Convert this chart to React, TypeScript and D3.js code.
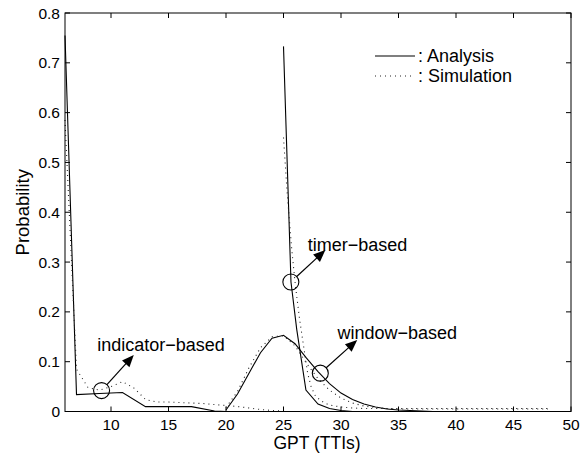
import React from "react";
import * as d3 from "d3";

// ---------- data ----------
const xTicks = [10, 15, 20, 25, 30, 35, 40, 45, 50];
const yTicks = [0, 0.1, 0.2, 0.3, 0.4, 0.5, 0.6, 0.7, 0.8];
const yTickLabels = ["0", "0.1", "0.2", "0.3", "0.4", "0.5", "0.6", "0.7", "0.8"];

// indicator-based
const indicatorAnalysisX = [6, 7, 9, 11, 13, 17, 19, 20, 48];
const indicatorAnalysisY = [0.755, 0.034, 0.036, 0.038, 0.0097, 0.0097, 0.001, 0, 0];
const indicatorSimX = [6, 7, 8, 9, 10, 11, 12, 13, 14, 15, 16, 17, 18, 19, 20, 21, 22, 23, 24, 25];
const indicatorSimY = [0.585, 0.085, 0.048, 0.043, 0.05, 0.06, 0.047, 0.024, 0.019, 0.019, 0.018, 0.017, 0.016, 0.014, 0.012, 0.01, 0.007, 0.004, 0.002, 0.001];

// timer-based
const timerAnalysisX = [25, 25.65, 26.15, 26.95, 28, 29, 30, 31, 48];
const timerAnalysisY = [0.733, 0.26, 0.165, 0.043, 0.015, 0.006, 0.002, 0, 0];
const timerSimX = [25, 25.3, 25.7, 26, 26.4, 26.8, 27.1, 27.4, 27.8, 28.5, 29, 30, 31, 32, 48];
const timerSimY = [0.55, 0.445, 0.33, 0.26, 0.185, 0.123, 0.077, 0.05, 0.03, 0.018, 0.013, 0.009, 0.007, 0.006, 0.006];

// window-based
const windowAnalysisX = [20, 21, 22, 23, 24, 25, 26, 27, 28, 29, 30, 31, 32, 33, 34, 35, 36, 37, 38, 48];
const windowAnalysisY = [0.003, 0.035, 0.077, 0.118, 0.147, 0.153, 0.136, 0.107, 0.08, 0.056, 0.037, 0.024, 0.015, 0.009, 0.005, 0.003, 0.002, 0.001, 0, 0];
const windowSimX = [20, 21, 22, 23, 24, 25, 26, 27, 28, 29, 30, 31, 32, 33, 34, 35, 48];
const windowSimY = [0.008, 0.04, 0.088, 0.128, 0.15, 0.152, 0.132, 0.097, 0.066, 0.043, 0.027, 0.017, 0.011, 0.008, 0.006, 0.005, 0.005];

// annotations: label, circle centre, arrow tip, text anchor (data coordinates)
const annLabels = ["indicator\u2212based", "timer\u2212based", "window\u2212based"];
const annCircleX = [9.18, 25.64, 28.2];
const annCircleY = [0.042, 0.26, 0.077];
const annTipX = [11.98, 28.64, 31.41];
const annTipY = [0.1135, 0.324, 0.1436];
const annTextX = [8.8, 27.1, 29.7];
const annTextY = [0.1215, 0.322, 0.1456];

const legendLabels = [": Analysis", ": Simulation"];

// ---------- layout ----------
const W = 580;
const H = 453;
const left = 65;
const right = 571;
const top = 13;
const bottom = 411.5;
const FONT = "'Liberation Sans', Arial, Helvetica, sans-serif";

const x = d3.scaleLinear().domain([6, 50]).range([left, right]);
const y = d3.scaleLinear().domain([0, 0.8]).range([bottom, top]);

const zip = (xs: number[], ys: number[]) => xs.map((v, i) => [v, ys[i]] as [number, number]);
const line = d3
  .line<[number, number]>()
  .x((d) => x(d[0]))
  .y((d) => y(d[1]));

const solidSeries = [
  zip(indicatorAnalysisX, indicatorAnalysisY),
  zip(timerAnalysisX, timerAnalysisY),
  zip(windowAnalysisX, windowAnalysisY),
];
const dottedSeries = [
  zip(indicatorSimX, indicatorSimY),
  zip(timerSimX, timerSimY),
  zip(windowSimX, windowSimY),
];

function Arrow({ cx, cy, tx, ty, r }: { cx: number; cy: number; tx: number; ty: number; r: number }) {
  const dx = tx - cx;
  const dy = ty - cy;
  const len = Math.hypot(dx, dy);
  const ux = dx / len;
  const uy = dy / len;
  const sx = cx + ux * r;
  const sy = cy + uy * r;
  const hl = 12;
  const hw = 5;
  const bx = tx - ux * hl;
  const by = ty - uy * hl;
  const p1 = [bx - uy * hw, by + ux * hw];
  const p2 = [bx + uy * hw, by - ux * hw];
  return (
    <g>
      <line x1={sx} y1={sy} x2={bx + ux * 2} y2={by + uy * 2} stroke="#000" strokeWidth={1.2} />
      <polygon points={`${tx},${ty} ${p1[0]},${p1[1]} ${p2[0]},${p2[1]}`} fill="#000" />
    </g>
  );
}

export default function App() {
  const tickLen = 5;
  return (
    <svg
      width={W}
      height={H}
      style={{ position: "absolute", left: 0, top: 0, background: "#fff" }}
      fontFamily={FONT}
    >
      <rect x={0} y={0} width={W} height={H} fill="#fff" />
      {/* curves */}
      {solidSeries.map((s, i) => (
        <path key={"s" + i} d={line(s) || ""} fill="none" stroke="#000" strokeWidth={1.1} />
      ))}
      {dottedSeries.map((s, i) => (
        <path
          key={"d" + i}
          d={line(s) || ""}
          fill="none"
          stroke="#222"
          strokeWidth={1.1}
          strokeDasharray="1 4"
        />
      ))}

      {/* axes box */}
      <rect x={left} y={top} width={right - left} height={bottom - top} fill="none" stroke="#000" strokeWidth={1} />
      {xTicks.map((t) => (
        <g key={"xt" + t}>
          <line x1={x(t)} x2={x(t)} y1={bottom} y2={bottom - tickLen} stroke="#000" />
          <line x1={x(t)} x2={x(t)} y1={top} y2={top + tickLen} stroke="#000" />
          <text x={x(t)} y={430} textAnchor="middle" fontSize={15.5}>
            {t}
          </text>
        </g>
      ))}
      {yTicks.map((t, i) => (
        <g key={"yt" + t}>
          <line x1={left} x2={left + tickLen} y1={y(t)} y2={y(t)} stroke="#000" />
          <line x1={right} x2={right - tickLen} y1={y(t)} y2={y(t)} stroke="#000" />
          <text x={60} y={y(t)} dy="0.36em" textAnchor="end" fontSize={15.5}>
            {yTickLabels[i]}
          </text>
        </g>
      ))}
      <text x={(left + right) / 2 - 1} y={449} textAnchor="middle" fontSize={17.5}>
        GPT (TTIs)
      </text>
      <text transform={`translate(29, ${(top + bottom) / 2}) rotate(-90)`} textAnchor="middle" fontSize={18.5}>
        Probability
      </text>

      {/* legend */}
      <line x1={375} x2={415} y1={56} y2={56} stroke="#000" strokeWidth={1.1} />
      <text x={418} y={62} fontSize={18}>
        {legendLabels[0]}
      </text>
      <line x1={375} x2={415} y1={76} y2={76} stroke="#222" strokeWidth={1.1} strokeDasharray="1 4" />
      <text x={418} y={82} fontSize={18}>
        {legendLabels[1]}
      </text>

      {/* annotations */}
      {annLabels.map((lab, i) => {
        const cx = x(annCircleX[i]);
        const cy = y(annCircleY[i]);
        return (
          <g key={"a" + i}>
            <circle cx={cx} cy={cy} r={8} fill="none" stroke="#000" strokeWidth={1.1} />
            <Arrow cx={cx} cy={cy} tx={x(annTipX[i])} ty={y(annTipY[i])} r={8} />
            <text x={x(annTextX[i])} y={y(annTextY[i])} fontSize={18}>
              {lab}
            </text>
          </g>
        );
      })}
    </svg>
  );
}
